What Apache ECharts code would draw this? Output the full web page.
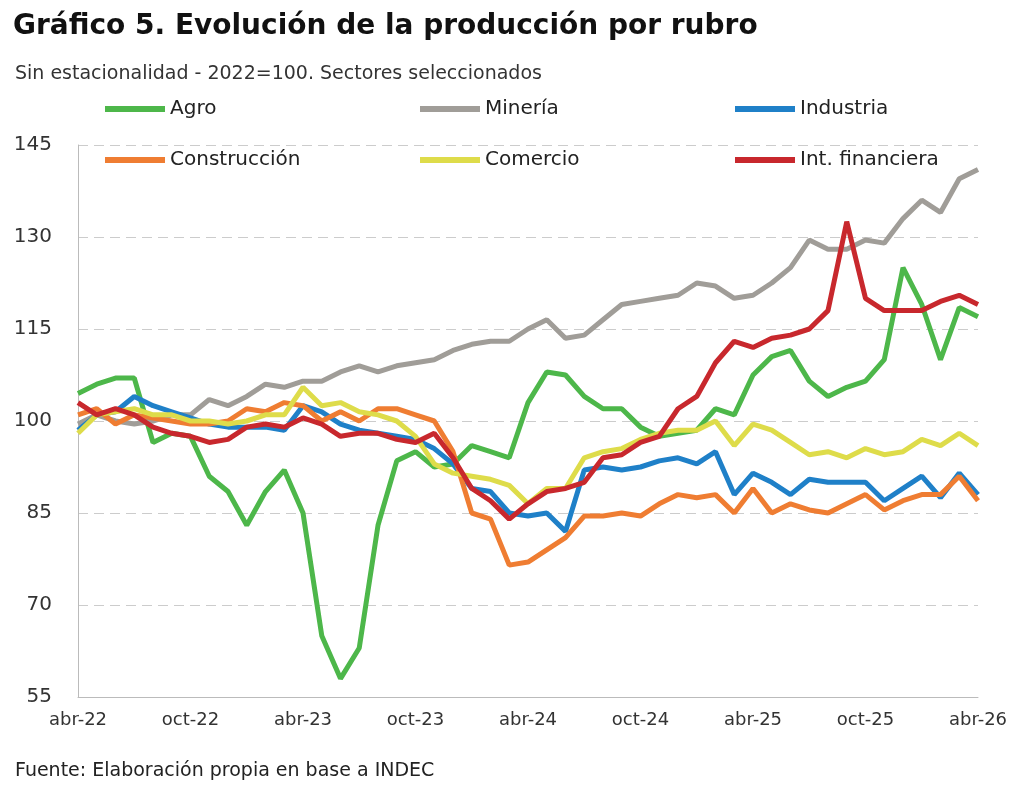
<!DOCTYPE html>
<html><head><meta charset="utf-8">
<script src="https://cdn.jsdelivr.net/npm/echarts@6/dist/echarts.min.js"></script>
<style>body{margin:0;background:#fff}#main{width:1024px;height:792px}</style>
</head><body><div id="main"></div>
<script>
var mesesAbr = ['ene','feb','mar','abr','may','jun','jul','ago','sep','oct','nov','dic'];
var months = [];
for (var i = 0; i < 49; i++) {
    var m = (3 + i) % 12, y = 22 + Math.floor((3 + i) / 12);
    months.push(mesesAbr[m] + '-' + y);
}
var agro = [104.5,106,107,107,96.5,98,97.5,91,88.5,83,88.5,92,85,65,58,63,83,93.5,95,92.5,93,96,95,94,103,108,107.5,104,102,102,99,97.5,98,98.5,102,101,107.5,110.5,111.5,106.5,104,105.5,106.5,110,125,119,110,118.5,117];
var mineria = [99.5,101,100,99.5,100,101,101,103.5,102.5,104,106,105.5,106.5,106.5,108,109,108,109,109.5,110,111.5,112.5,113,113,115,116.5,113.5,114,116.5,119,119.5,120,120.5,122.5,122,120,120.5,122.5,125,129.5,128,128,129.5,129,133,136,134,139.5,141];
var industria = [98.5,101,101.5,104,102.5,101.5,100.5,99.5,99,99,99,98.5,102.5,101.5,99.5,98.5,98,97.5,97,95.5,93,89,88.5,85,84.5,85,82,92,92.5,92,92.5,93.5,94,93,95,88,91.5,90,88,90.5,90,90,90,87,89,91,87.5,91.5,88];
var construccion = [101,102,99.5,101,100.5,100,99.5,99.5,100,102,101.5,103,102.5,100,101.5,100,102,102,101,100,95,85,84,76.5,77,79,81,84.5,84.5,85,84.5,86.5,88,87.5,88,85,89,85,86.5,85.5,85,86.5,88,85.5,87,88,88,91,87];
var comercio = [98,101,101.5,102,101,101,100,100,99.5,100,101,101,105.5,102.5,103,101.5,101,100,97.5,93,91.5,91,90.5,89.5,86.5,89,89,94,95,95.5,97,98,98.5,98.5,100,96,99.5,98.5,96.5,94.5,95,94,95.5,94.5,95,97,96,98,96];
var financiera = [103,101,102,101,99,98,97.5,96.5,97,99,99.5,99,100.5,99.5,97.5,98,98,97,96.5,98,94,89,87,84,86.5,88.5,89,90,94,94.5,96.5,97.5,102,104,109.5,113,112,113.5,114,115,118,132.5,120,118,118,118,119.5,120.5,119];

var names = ['Agro','Minería','Industria','Construcción','Comercio','Int. financiera'];
var colors = ['#4db74a','#a09d98','#1f80c8','#ef7d32','#dedc4a','#c8282d'];
var datas = [agro, mineria, industria, construccion, comercio, financiera];
var legPos = [[100,94],[415,94],[730,94],[100,145],[415,145],[730,145]];
var fnt = '"DejaVu Sans", sans-serif';

var myChart = echarts.init(document.getElementById('main'));
var option = {
    animation: false,
    textStyle: {fontFamily: fnt},
    title: [
        {text: 'Gráfico 5. Evolución de la producción por rubro', left: 8, top: 8,
         textStyle: {fontSize: 28, fontWeight: 'bold', color: '#111', fontFamily: fnt}},
        {text: 'Sin estacionalidad - 2022=100. Sectores seleccionados', left: 10, top: 60,
         textStyle: {fontSize: 19, fontWeight: 'normal', color: '#333', fontFamily: fnt}},
        {text: 'Fuente: Elaboración propia en base a INDEC', left: 10, top: 757,
         textStyle: {fontSize: 19, fontWeight: 'normal', color: '#222', fontFamily: fnt}}
    ],
    legend: names.map(function (n, i) {
        return {data: [n], left: legPos[i][0], top: legPos[i][1], itemWidth: 60, itemHeight: 6,
                icon: 'rect', itemGap: 4,
                textStyle: {fontSize: 20, color: '#222', fontFamily: fnt}};
    }),
    grid: {left: 78, right: 46, top: 145, bottom: 95},
    xAxis: {
        type: 'category', data: months, boundaryGap: false,
        axisLine: {lineStyle: {color: '#bbb'}},
        axisTick: {show: false},
        axisLabel: {interval: 5, fontSize: 18, color: '#333', margin: 14, fontFamily: fnt}
    },
    yAxis: {
        type: 'value', min: 55, max: 145, interval: 15,
        axisLine: {show: true, lineStyle: {color: '#bbb'}},
        axisLabel: {fontSize: 20, color: '#333', margin: 26, fontFamily: fnt},
        splitLine: {lineStyle: {color: '#ccc', type: [10, 6]}}
    },
    series: names.map(function (n, i) {
        return {name: n, type: 'line', data: datas[i], symbol: 'none',
                lineStyle: {width: 5, color: colors[i]}, itemStyle: {color: colors[i]}};
    })
};
myChart.setOption(option);
</script></body></html>
